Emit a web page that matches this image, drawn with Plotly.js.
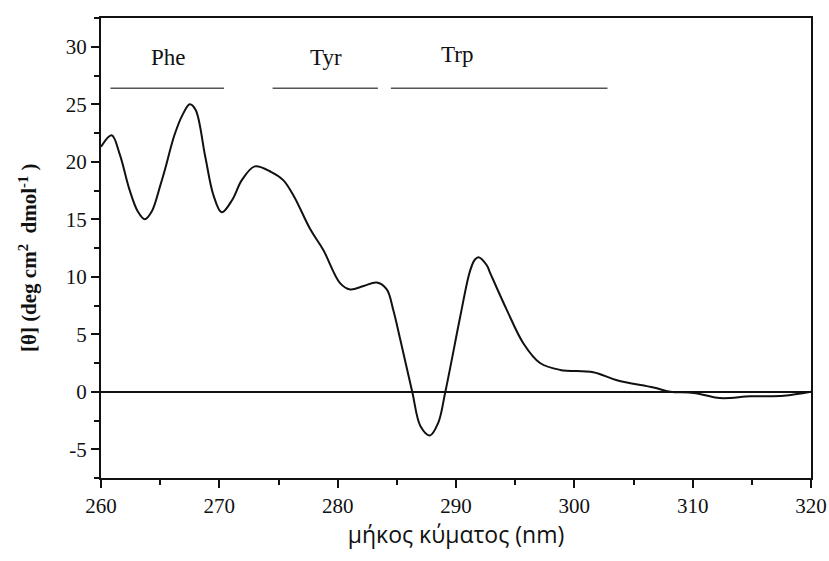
<!DOCTYPE html>
<html>
<head>
<meta charset="utf-8">
<script src="https://cdn.plot.ly/plotly-3.0.1.min.js"></script>
<style>
  html, body { margin: 0; padding: 0; background: #fff; }
  #chart { width: 829px; height: 561px; }
</style>
</head>
<body>
<div id="chart"></div>
<script>
// CD spectrum in the near-UV region (wavelength in nm, ellipticity)
const wavelength = [260.0, 260.9, 261.6, 262.4, 263.1, 263.7, 264.3, 265.0, 265.4, 266.2,
  266.9, 267.5, 268.0, 268.8, 269.5, 270.2, 271.1, 271.9, 273.0,
  274.4, 275.4, 276.3, 277.7, 278.8, 280.2, 281.05, 282.2, 283.3, 284.15,
  284.7, 285.3, 286.3, 287.0, 287.8, 288.5, 289.1, 290.35, 291.05, 291.35, 291.6, 291.9,
  292.6, 292.9, 294.3, 295.7, 297.1, 298.8, 301.6, 303.6, 306.7, 308.1, 310.1,
  312.3, 314.9, 317.7, 320.0];
const ellipticity = [21.3, 22.3, 20.6, 17.6, 15.7, 15.0, 15.7, 17.9, 19.3, 22.3,
  24.1, 25.0, 24.5, 20.5, 17.1, 15.6, 16.7, 18.4, 19.6,
  19.1, 18.4, 17.0, 14.1, 12.3, 9.45, 8.9, 9.2, 9.5, 8.9,
  7.1, 4.5, 0.0, -3.0, -3.8, -2.7, 0.0, 6.5, 10.0, 11.0, 11.5, 11.7,
  11.0, 10.3, 7.1, 4.2, 2.5, 1.9, 1.7, 1.0, 0.37, 0.0, -0.1,
  -0.55, -0.4, -0.35, 0.0];

// Axis ticks
const xTicks = [260, 270, 280, 290, 300, 310, 320];
const xTickLabels = ["260", "270", "280", "290", "300", "310", "320"];
const yTicks = [-5, 0, 5, 10, 15, 20, 25, 30];
const yTickLabels = ["-5", "0", "5", "10", "15", "20", "25", "30"];

// Absorption regions of the aromatic residues
const bandNames = ["Phe", "Tyr", "Trp"];
const bandStart = [260.8, 274.5, 284.5];
const bandEnd = [270.4, 283.4, 302.8];
const bandLabelX = [265.7, 279.0, 290.1];
const bandLineY = 26.4;
const bandLabelY = [29.1, 29.1, 29.3];

const yTitle = "<b>[θ] (deg cm<sup>2</sup>&nbsp; dmol<sup>-1</sup>&nbsp;)</b>";

const serif = "Liberation Serif";
const sans = "Open Sans";

const traces = [{
  x: wavelength,
  y: ellipticity,
  type: "scatter",
  mode: "lines",
  line: { color: "#111", width: 2, shape: "spline", smoothing: 1 },
  hoverinfo: "x+y"
}];

const shapes = bandNames.map((n, i) => ({
  type: "line", xref: "x", yref: "y",
  x0: bandStart[i], x1: bandEnd[i], y0: bandLineY, y1: bandLineY,
  line: { color: "#555", width: 1.5 }
}));

const annotations = bandNames.map((n, i) => ({
  x: bandLabelX[i], y: bandLabelY[i], xref: "x", yref: "y",
  text: n, showarrow: false,
  font: { family: serif, size: 23, color: "#111" }
}));

// Rotated y-axis title, set slightly below the plot's vertical centre
annotations.push({
  x: -0.103, y: 0.48, xref: "paper", yref: "paper",
  xanchor: "center", yanchor: "middle",
  text: yTitle, textangle: -90, showarrow: false,
  font: { family: serif, size: 21, color: "#111" }
});

const layout = {
  width: 829, height: 561,
  margin: { l: 101, r: 18, t: 18, b: 83 },
  paper_bgcolor: "#fff", plot_bgcolor: "#fff",
  font: { family: serif, size: 21, color: "#111" },
  showlegend: false,
  xaxis: {
    range: [260, 320], tickmode: "array", tickvals: xTicks, ticktext: xTickLabels,
    ticks: "outside", ticklen: 8, tickwidth: 2, tickcolor: "#111",
    minor: { dtick: 5, tick0: 260, ticks: "outside", ticklen: 5, tickwidth: 2, tickcolor: "#111" },
    showline: true, linewidth: 2, linecolor: "#111", mirror: true,
    showgrid: false, zeroline: false,
    tickfont: { family: serif, size: 21, color: "#111" },
    title: { text: "μήκος κύματος (nm)", standoff: 2,
      font: { family: sans, size: 23, color: "#111" } }
  },
  yaxis: {
    range: [-7.5, 32.5], tickmode: "array", tickvals: yTicks, ticktext: yTickLabels,
    ticks: "outside", ticklen: 8, tickwidth: 2, tickcolor: "#111",
    minor: { dtick: 2.5, tick0: 0, ticks: "outside", ticklen: 5, tickwidth: 2, tickcolor: "#111" },
    showline: true, linewidth: 2, linecolor: "#111", mirror: true,
    showgrid: false,
    zeroline: true, zerolinecolor: "#111", zerolinewidth: 1.8,
    tickfont: { family: serif, size: 21, color: "#111" }
  },
  shapes: shapes,
  annotations: annotations
};

Plotly.newPlot("chart", traces, layout, { displayModeBar: false, staticPlot: true });
</script>
</body>
</html>
